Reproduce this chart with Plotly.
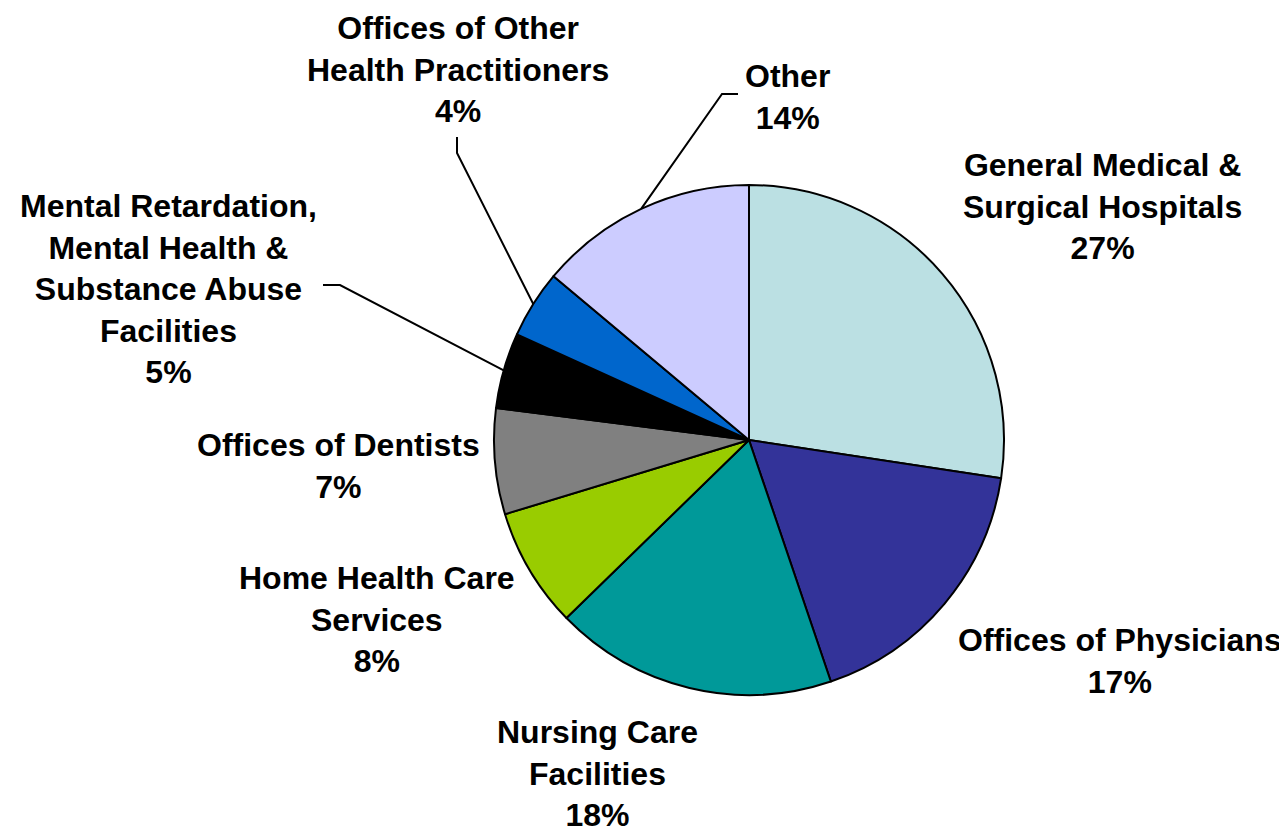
import math
import plotly.graph_objects as go

categories = [
    "General Medical & Surgical Hospitals",
    "Offices of Physicians",
    "Nursing Care Facilities",
    "Home Health Care Services",
    "Offices of Dentists",
    "Mental Retardation, Mental Health & Substance Abuse Facilities",
    "Offices of Other Health Practitioners",
    "Other",
]
values = [27.4, 17.4, 17.9, 7.6, 6.7, 4.8, 4.3, 13.9]
label_lines = [
    ["General Medical &", "Surgical Hospitals"],
    ["Offices of Physicians"],
    ["Nursing Care", "Facilities"],
    ["Home Health Care", "Services"],
    ["Offices of Dentists"],
    ["Mental Retardation,", "Mental Health &", "Substance Abuse", "Facilities"],
    ["Offices of Other", "Health Practitioners"],
    ["Other"],
]
colors = ["#BBE0E3", "#333399", "#009999", "#99CC00", "#808080", "#000000", "#0066CC", "#CCCCFF"]

# label block centres (page pixels)
label_pos = [(1102, 207), (1120, 661), (597, 773), (377, 619), (338, 466), (168, 289), (458, 69), (787, 97)]
# leader-line elbows (page pixels), from the label side
leader_elbows = {
    5: [(323, 285), (340, 285)],
    6: [(457, 137), (457, 153)],
    7: [(738, 94), (722, 94)],
}

OFF = 8  # default page body margin
W, H = 1287 - OFF, 832 - OFF
cx, cy, r = 749 - OFF, 440 - OFF, 255


def px2paper(x, y):
    return (x - OFF) / W, 1 - (y - OFF) / H


fig = go.Figure(go.Pie(
    labels=categories,
    values=values,
    sort=False,
    direction="clockwise",
    rotation=0,
    textinfo="none",
    hoverinfo="label+percent",
    marker=dict(colors=colors, line=dict(color="#000000", width=2)),
    domain=dict(x=[(cx - r) / W, (cx + r) / W], y=[1 - (cy + r) / H, 1 - (cy - r) / H]),
    showlegend=False,
))

total = sum(values)
font = dict(family="Liberation Sans, Arial, sans-serif", size=32, color="#000000")
annotations = []
shapes = []
cum = 0.0
for i, v in enumerate(values):
    pct = round(100 * v / total)
    text = "<br>".join(f"<b>{t}</b>" for t in label_lines[i]) + f"<br><b>{pct}%</b>"
    ax, ay = px2paper(*label_pos[i])
    annotations.append(dict(
        x=ax, y=ay, xref="paper", yref="paper",
        text=text, showarrow=False, xanchor="center", yanchor="middle",
        align="center", font=font,
    ))
    mid = (cum + v / 2) / total * 2 * math.pi
    cum += v
    if i in leader_elbows:
        ex = cx + OFF + r * math.sin(mid)
        ey = cy + OFF - r * math.cos(mid)
        pts = leader_elbows[i] + [(ex, ey)]
        path = "M " + " L ".join("{:.5f},{:.5f}".format(*px2paper(x, y)) for x, y in pts)
        shapes.append(dict(type="path", path=path, xref="paper", yref="paper",
                           line=dict(color="#000000", width=2)))

fig.update_layout(
    width=W, height=H,
    margin=dict(l=0, r=0, t=0, b=0),
    paper_bgcolor="#FFFFFF",
    plot_bgcolor="#FFFFFF",
    annotations=annotations,
    shapes=shapes,
)

fig.write_html("out.html")
